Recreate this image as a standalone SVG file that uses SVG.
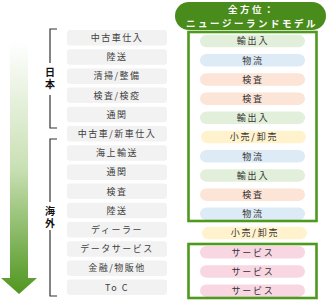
<svg xmlns="http://www.w3.org/2000/svg" width="329" height="300" viewBox="0 0 329 300">
<defs>
<linearGradient id="ag" x1="0" y1="0" x2="0" y2="1">
<stop offset="0" stop-color="#ffffff"/>
<stop offset="0.5" stop-color="#c9e0b4"/>
<stop offset="1" stop-color="#4f961f"/>
</linearGradient>
<style>
.l{fill:#f2f2f2}
.lt{font-family:"Noto Sans CJK JP","Liberation Sans",sans-serif;font-size:9px;fill:#404040;text-anchor:middle;letter-spacing:1.5px}
.rt{font-family:"Noto Sans CJK JP","Liberation Sans",sans-serif;font-size:9px;fill:#333;text-anchor:middle;letter-spacing:1.8px}
.br{fill:none;stroke:#333;stroke-width:1.2}
.bt{font-family:"Noto Sans CJK JP",sans-serif;font-size:10px;font-weight:bold;fill:#111;text-anchor:middle;writing-mode:vertical-rl;letter-spacing:2px}
.gb{fill:none;stroke:#4e9a1e;stroke-width:2.6}
.ex{fill:#e2efda}.lo{fill:#ddebf7}.in{fill:#fce4d6}.re{fill:#fff2cc}.sv{fill:#f8d7e3}
.tt{font-family:"Noto Sans CJK JP",sans-serif;font-size:9.5px;font-weight:bold;fill:#fff;text-anchor:middle;letter-spacing:2.5px}
</style>
</defs>
<g id="arrow"><path d="M10 42 H28 V278 H37 L19 294 L1 278 H10 Z" fill="url(#ag)"/></g>
<g id="brackets">
<path class="br" d="M57 29 H50 V63 M50 95 V128 H57"/>
<text class="bt" x="50" y="79">日本</text>
<path class="br" d="M57 139 H50 V202 M50 230 V296 H57"/>
<text class="bt" x="50" y="218">海外</text>
</g>
<g id="title">
<rect x="175" y="2" width="151" height="28" rx="14" fill="#4a8c1c"/>
<text class="tt" x="252" y="13.3">全方位：</text>
<text class="tt" x="252" y="27.1">ニュージーランドモデル</text>
</g>
<g id="left">
<g id="l1"><rect class="l" x="67" y="30" width="100" height="15.5" rx="3"/><text class="lt" x="117" y="41">中古車仕入</text></g>
<g id="l2"><rect class="l" x="67" y="49.2" width="100" height="15.5" rx="3"/><text class="lt" x="117" y="60.2">陸送</text></g>
<g id="l3"><rect class="l" x="67" y="68.4" width="100" height="15.5" rx="3"/><text class="lt" x="117" y="79.4">清掃/整備</text></g>
<g id="l4"><rect class="l" x="67" y="87.6" width="100" height="15.5" rx="3"/><text class="lt" x="117" y="98.6">検査/検疫</text></g>
<g id="l5"><rect class="l" x="67" y="106.8" width="100" height="15.5" rx="3"/><text class="lt" x="117" y="117.8">通関</text></g>
<g id="l6"><rect class="l" x="67" y="126" width="100" height="15.5" rx="3"/><text class="lt" x="117" y="137">中古車/新車仕入</text></g>
<g id="l7"><rect class="l" x="67" y="145.2" width="100" height="15.5" rx="3"/><text class="lt" x="117" y="156.2">海上輸送</text></g>
<g id="l8"><rect class="l" x="67" y="164.4" width="100" height="15.5" rx="3"/><text class="lt" x="117" y="175.4">通関</text></g>
<g id="l9"><rect class="l" x="67" y="183.6" width="100" height="15.5" rx="3"/><text class="lt" x="117" y="194.6">検査</text></g>
<g id="l10"><rect class="l" x="67" y="202.8" width="100" height="15.5" rx="3"/><text class="lt" x="117" y="213.8">陸送</text></g>
<g id="l11"><rect class="l" x="67" y="222" width="100" height="15.5" rx="3"/><text class="lt" x="117" y="233">ディーラー</text></g>
<g id="l12"><rect class="l" x="67" y="241.2" width="100" height="15.5" rx="3"/><text class="lt" x="117" y="252.2">データサービス</text></g>
<g id="l13"><rect class="l" x="67" y="260.4" width="100" height="15.5" rx="3"/><text class="lt" x="117" y="271.4">金融/物販他</text></g>
<g id="l14"><rect class="l" x="67" y="279.6" width="100" height="15.5" rx="3"/><text class="lt" x="117" y="290.6">To C</text></g>
</g>
<g id="right">
<g id="r1"><rect class="ex" x="200" y="34.8" width="105" height="12.5" rx="6.25"/><text class="rt" x="253" y="44.3">輸出入</text></g>
<g id="r2"><rect class="lo" x="200" y="54" width="105" height="12.5" rx="6.25"/><text class="rt" x="253" y="63.5">物流</text></g>
<g id="r3"><rect class="in" x="200" y="73.2" width="105" height="12.5" rx="6.25"/><text class="rt" x="253" y="82.7">検査</text></g>
<g id="r4"><rect class="in" x="200" y="92.4" width="105" height="12.5" rx="6.25"/><text class="rt" x="253" y="101.9">検査</text></g>
<g id="r5"><rect class="ex" x="200" y="111.6" width="105" height="12.5" rx="6.25"/><text class="rt" x="253" y="121.1">輸出入</text></g>
<g id="r6"><rect class="re" x="201" y="130.8" width="105" height="12.5" rx="6.25"/><text class="rt" x="254" y="140.3">小売/卸売</text></g>
<g id="r7"><rect class="lo" x="200" y="150" width="105" height="12.5" rx="6.25"/><text class="rt" x="253" y="159.5">物流</text></g>
<g id="r8"><rect class="ex" x="200" y="169.2" width="105" height="12.5" rx="6.25"/><text class="rt" x="253" y="178.7">輸出入</text></g>
<g id="r9"><rect class="in" x="200" y="188.4" width="105" height="12.5" rx="6.25"/><text class="rt" x="253" y="197.9">検査</text></g>
<g id="r10"><rect class="lo" x="200" y="207.6" width="105" height="12.5" rx="6.25"/><text class="rt" x="253" y="217.1">物流</text></g>
<g id="r11"><rect class="re" x="202" y="226.8" width="105" height="12.5" rx="6.25"/><text class="rt" x="255" y="236.3">小売/卸売</text></g>
<g id="r12"><rect class="sv" x="200" y="246" width="105" height="12.5" rx="6.25"/><text class="rt" x="253" y="255.5">サービス</text></g>
<g id="r13"><rect class="sv" x="200" y="265.2" width="105" height="12.5" rx="6.25"/><text class="rt" x="253" y="274.7">サービス</text></g>
<g id="r14"><rect class="sv" x="200" y="284.4" width="105" height="12.5" rx="6.25"/><text class="rt" x="253" y="293.9">サービス</text></g>
</g>
<g id="frames">
<rect class="gb" x="188.5" y="32" width="128" height="189"/>
<rect class="gb" x="188.5" y="244" width="128" height="54"/>
</g>
</svg>
